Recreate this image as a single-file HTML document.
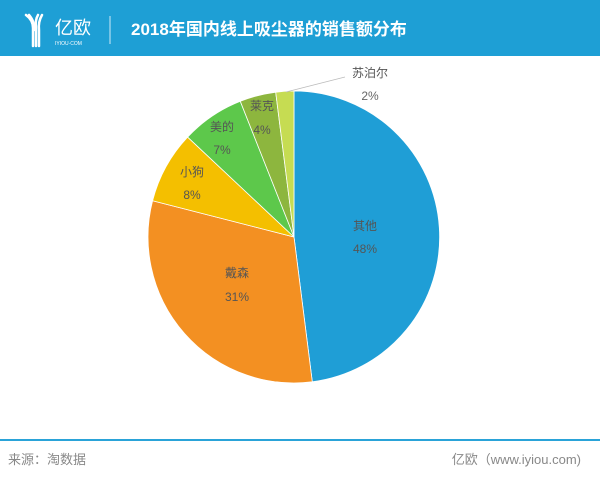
<!DOCTYPE html>
<html><head><meta charset="utf-8"><style>
body{margin:0;width:600px;height:477px;background:#fff;position:relative;overflow:hidden;font-family:"Liberation Sans","Noto Sans CJK SC",sans-serif}
.hdr{position:absolute;left:0;top:0;width:600px;height:56px;background:#1e9fd5}
.ft{position:absolute;top:439px;left:0;width:600px;height:2px;background:#2aa3d8}
</style></head><body>
<div class="hdr"></div>
<svg width="600" height="477" style="position:absolute;left:0;top:0" font-family="Liberation Sans, Noto Sans CJK SC, sans-serif">
<g fill="none" stroke="#fff" stroke-width="2.5" stroke-linecap="round">
<path d="M26 15 Q33 20 33 28 L33 46"/><path d="M38 15 Q35 20 36 28 L36 46"/><path d="M42 15 Q38 22 39 30 L39 46"/><path d="M29 15 Q35 22 34 30"/>
</g>
<text x="55" y="34" fill="#fff" font-size="18">亿欧</text>
<text x="55" y="45" fill="#fff" font-size="5">IYIOU·COM</text>
<line x1="110" y1="16" x2="110" y2="44" stroke="#cfe9f6" stroke-width="1"/>
<text x="131" y="35" fill="#fff" font-size="17" font-weight="bold">2018年国内线上吸尘器的销售额分布</text>
<g stroke="#fff" stroke-width="0.8">
<path d="M294 237 L294 91 A146 146 0 0 1 312.3 381.8 Z" fill="#1f9ed6"/>
<path d="M294 237 L312.3 381.8 A146 146 0 0 1 152.6 200.7 Z" fill="#f39022"/>
<path d="M294 237 L152.6 200.7 A146 146 0 0 1 187.6 137.1 Z" fill="#f4bf00"/>
<path d="M294 237 L187.6 137.1 A146 146 0 0 1 240.3 101.3 Z" fill="#5dc84b"/>
<path d="M294 237 L240.3 101.3 A146 146 0 0 1 275.7 92.2 Z" fill="#8db63e"/>
<path d="M294 237 L275.7 92.2 A146 146 0 0 1 294 91 Z" fill="#c6dc52"/>
</g>
<line x1="286" y1="92" x2="345" y2="77" stroke="#bbb" stroke-width="0.8"/>
<g fill="#555" font-size="12" text-anchor="middle">
<text x="370" y="77">苏泊尔</text><text x="370" y="100" fill="#666">2%</text>
<text x="262" y="110">莱克</text><text x="262" y="134">4%</text>
<text x="222" y="131">美的</text><text x="222" y="154">7%</text>
<text x="192" y="176">小狗</text><text x="192" y="199">8%</text>
<text x="237" y="277">戴森</text><text x="237" y="301">31%</text>
<text x="365" y="230">其他</text><text x="365" y="253">48%</text>
</g>
<g fill="#888" font-size="13">
<text x="8" y="464">来源：淘数据</text>
<text x="581" y="464" text-anchor="end">亿欧（www.iyiou.com)</text>
</g>
</svg>
<div class="ft"></div>
</body></html>
